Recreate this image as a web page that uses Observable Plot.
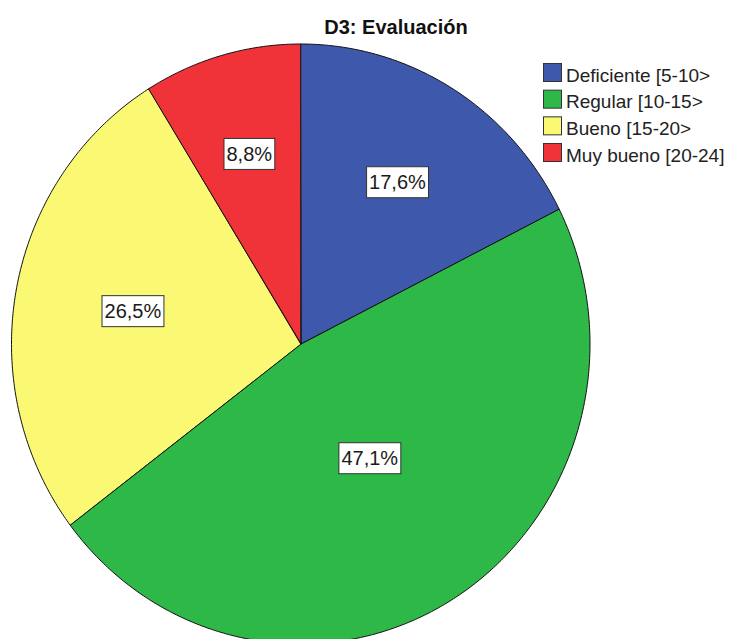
<!DOCTYPE html>
<html>
<head>
<meta charset="utf-8">
<script src="https://cdn.jsdelivr.net/npm/d3@7"></script>
<script src="https://cdn.jsdelivr.net/npm/@observablehq/plot@0.6"></script>
<style>
  html, body { margin: 0; padding: 0; background: #fff; }
  #chart { position: relative; width: 729px; height: 639px; overflow: hidden; }
  svg { font-family: "Liberation Sans", Arial, sans-serif; }
</style>
</head>
<body>
<div id="chart"></div>
<script>
const title = "D3: Evaluación";
const categories = ["Deficiente [5-10>", "Regular [10-15>", "Bueno [15-20>", "Muy bueno [20-24]"];
const percents = [17.6, 47.1, 26.5, 8.8];
const colors = ["#3E58AC", "#2EB848", "#FBF873", "#EF3338"];

const data = categories.map((c, i) => ({cat: c, value: percents[i]}));
const arcs = d3.pie().sort(null).value(d => d.value)(data);

// outline points of each slice (unit circle, angle 0 at 12 o'clock, clockwise)
const pts = [];
const labels = [];
for (const a of arcs) {
  const n = Math.max(2, Math.ceil((a.endAngle - a.startAngle) / (Math.PI / 360)));
  for (let k = 0; k <= n; k++) {
    const t = a.startAngle + (a.endAngle - a.startAngle) * k / n;
    pts.push({cat: a.data.cat, x: Math.sin(t), y: Math.cos(t)});
  }
  const half = (a.endAngle - a.startAngle) / 2;
  const mid = a.startAngle + half;
  const d = 2 * Math.sin(half) / (3 * half); // sector centroid distance
  labels.push({cat: a.data.cat, x: d * Math.sin(mid), y: d * Math.cos(mid),
               text: a.data.value.toFixed(1).replace(".", ",") + "%"});
}

const plot = Plot.plot({
  width: 729,
  height: 639,
  margin: 0,
  x: {domain: [-1, 1], range: [11.5, 590], axis: null},
  y: {domain: [-1, 1], range: [644, 44], axis: null},
  color: {domain: categories, range: colors},
  style: {fontFamily: "'Liberation Sans', Arial, sans-serif", background: "white"},
  marks: [
    Plot.area(pts, {x1: "x", y1: "y", x2: 0, y2: 0, z: "cat", fill: "cat",
      stroke: "#111", strokeWidth: 1, strokeLinejoin: "round", curve: "linear"}),
    Plot.text(labels, {x: "x", y: "y", text: "text", fontSize: 20, fill: "#1a1a1a",
      textAnchor: "middle", lineAnchor: "middle"})
  ]
});

document.getElementById("chart").appendChild(plot);

const svg = d3.select(plot);
// boxes behind percentage labels
const labelTexts = svg.selectAll("text").nodes().filter(n => /%$/.test(n.textContent));
for (const t of labelTexts) {
  const bb = t.getBBox();
  const cy = bb.y + bb.height / 2;
  const r = document.createElementNS("http://www.w3.org/2000/svg", "rect");
  r.setAttribute("x", bb.x - 2.5);
  r.setAttribute("width", bb.width + 5);
  r.setAttribute("y", cy - 15.5);
  r.setAttribute("height", 31);
  r.setAttribute("fill", "white");
  r.setAttribute("stroke", "#333");
  r.setAttribute("stroke-width", 1);
  if (t.getAttribute("transform")) r.setAttribute("transform", t.getAttribute("transform"));
  t.parentNode.insertBefore(r, t);
}

// title
svg.append("text")
  .attr("x", 396).attr("y", 34)
  .attr("text-anchor", "middle")
  .attr("font-size", 20).attr("font-weight", "bold").attr("fill", "#111")
  .text(title);

// legend
const lg = svg.append("g").attr("text-anchor", "start");
categories.forEach((c, i) => {
  const y0 = 63 + i * 26.67;
  lg.append("rect").attr("x", 543.5).attr("y", y0 + 0.5).attr("width", 18).attr("height", 18)
    .attr("fill", colors[i]).attr("stroke", "#333").attr("stroke-width", 1);
  lg.append("text").attr("x", 566).attr("y", y0 + 18.5)
    .attr("text-anchor", "start")
    .attr("font-size", 19).attr("fill", "#222").text(c);
});
</script>
</body>
</html>
